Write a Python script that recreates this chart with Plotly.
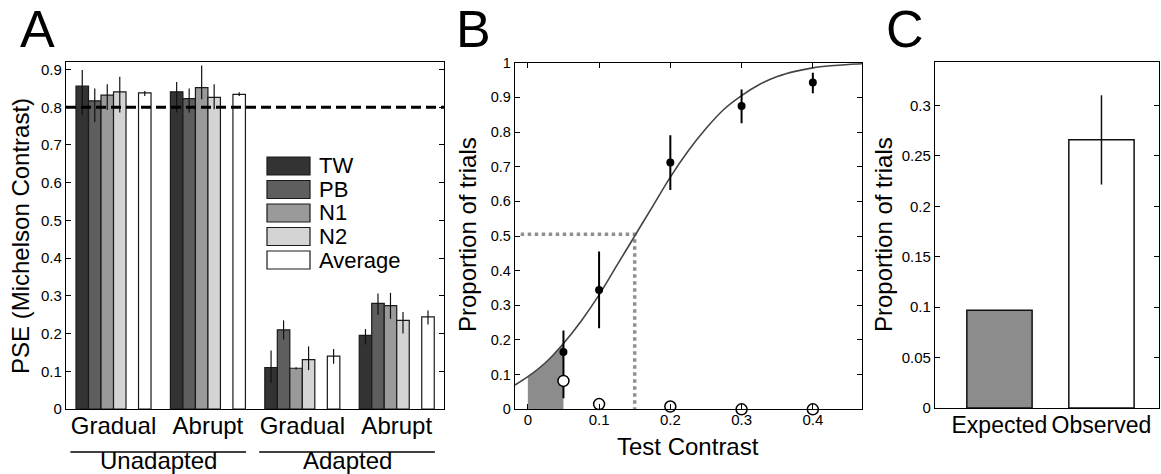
import plotly.graph_objects as go

W, H = 1161, 474
FONT = "Liberation Sans, Arial, Helvetica, sans-serif"

# ---------------- Panel A data ----------------
conditions = ["Gradual", "Abrupt", "Gradual", "Abrupt"]
adaptation = ["Unadapted", "Adapted"]
observers = ["TW", "PB", "N1", "N2", "Average"]
observer_colors = ["#333333", "#5e5e5e", "#9a9a9a", "#d4d4d4", "#ffffff"]

pse_TW = [0.856, 0.841, 0.110, 0.195]
pse_PB = [0.817, 0.823, 0.210, 0.280]
pse_N1 = [0.832, 0.852, 0.108, 0.274]
pse_N2 = [0.841, 0.826, 0.131, 0.235]
pse_AVG = [0.838, 0.834, 0.140, 0.244]

err_up_TW = [0.043, 0.026, 0.045, 0.017]
err_dn_TW = [0.077, 0.055, 0.041, 0.024]
err_up_PB = [0.033, 0.027, 0.025, 0.026]
err_dn_PB = [0.056, 0.037, 0.026, 0.030]
err_up_N1 = [0.029, 0.059, 0.003, 0.034]
err_dn_N1 = [0.039, 0.031, 0.003, 0.035]
err_up_N2 = [0.040, 0.035, 0.035, 0.022]
err_dn_N2 = [0.055, 0.031, 0.028, 0.035]
err_up_AVG = [0.005, 0.006, 0.019, 0.017]
err_dn_AVG = [0.008, 0.004, 0.020, 0.020]

pse_series = [pse_TW, pse_PB, pse_N1, pse_N2, pse_AVG]
err_up = [err_up_TW, err_up_PB, err_up_N1, err_up_N2, err_up_AVG]
err_dn = [err_dn_TW, err_dn_PB, err_dn_N1, err_dn_N2, err_dn_AVG]
reference_pse = 0.8
a_yticks = [0, 0.1, 0.2, 0.3, 0.4, 0.5, 0.6, 0.7, 0.8, 0.9]
a_yticklabels = ["0", "0.1", "0.2", "0.3", "0.4", "0.5", "0.6", "0.7", "0.8", "0.9"]

# ---------------- Panel B data ----------------
test_contrast = [0.05, 0.1, 0.2, 0.3, 0.4]
p_filled = [0.165, 0.344, 0.712, 0.875, 0.943]
p_filled_up = [0.062, 0.111, 0.079, 0.048, 0.028]
p_filled_dn = [0.133, 0.110, 0.079, 0.050, 0.031]
p_open = [0.082, 0.015, 0.008, 0.0, 0.0]
p_open_err = [0.0, 0.012, 0.012, 0.012, 0.012]
fit_x = [-0.018, 0.0, 0.025, 0.05, 0.075, 0.1, 0.125, 0.15, 0.175, 0.2, 0.225,
         0.25, 0.275, 0.3, 0.325, 0.35, 0.375, 0.4, 0.425, 0.45, 0.469]
fit_y = [0.070, 0.094, 0.135, 0.190, 0.255, 0.330, 0.415, 0.500, 0.585, 0.670, 0.745,
         0.810, 0.865, 0.905, 0.937, 0.960, 0.975, 0.985, 0.991, 0.995, 0.997]
shade_from, shade_to = 0.0, 0.05
pse_contrast = 0.15
pse_prop = 0.505
b_xticks = [0, 0.1, 0.2, 0.3, 0.4]
b_xticklabels = ["0", "0.1", "0.2", "0.3", "0.4"]
b_yticks = [0, 0.1, 0.2, 0.3, 0.4, 0.5, 0.6, 0.7, 0.8, 0.9, 1.0]
b_yticklabels = ["0", "0.1", "0.2", "0.3", "0.4", "0.5", "0.6", "0.7", "0.8", "0.9", "1"]

# ---------------- Panel C data ----------------
c_categories = ["Expected", "Observed"]
c_values = [0.097, 0.266]
c_err_up = [0.0, 0.044]
c_err_dn = [0.0, 0.0445]
c_colors = ["#8c8c8c", "#ffffff"]
c_yticks = [0, 0.05, 0.1, 0.15, 0.2, 0.25, 0.3]
c_yticklabels = ["0", "0.05", "0.1", "0.15", "0.2", "0.25", "0.3"]


def px_x(p):
    return p / W


def px_y(p):
    return 1 - p / H


fig = go.Figure()

# ---------- Panel A bars ----------
group_period = 7.55
slot_offsets = [0.5, 1.5, 2.5, 3.5, 5.5]
group_starts = [g * group_period for g in range(len(conditions))]
for i, name in enumerate(observers):
    xs = [s + slot_offsets[i] for s in group_starts]
    fig.add_trace(go.Bar(
        x=xs, y=pse_series[i], width=1.0, name=name,
        marker=dict(color=observer_colors[i], line=dict(color="#1a1a1a", width=1.2)),
        error_y=dict(type="data", symmetric=False, array=err_up[i], arrayminus=err_dn[i],
                     color="#111111", thickness=1.2, width=0),
        xaxis="x", yaxis="y", showlegend=False))

a_xmin = -0.8
a_xmax = group_starts[-1] + 6 + 0.78
group_centers = [s + 3 for s in group_starts]

# ---------- Panel B ----------
shade_x = [x for x in fit_x if shade_from <= x <= shade_to]
shade_y = [y for x, y in zip(fit_x, fit_y) if shade_from <= x <= shade_to]
fig.add_trace(go.Scatter(x=shade_x, y=shade_y, fill="tozeroy", mode="lines",
                         line=dict(width=0, color="#8c8c8c"), fillcolor="#8c8c8c",
                         xaxis="x2", yaxis="y2", showlegend=False, hoverinfo="skip"))
fig.add_trace(go.Scatter(x=[fit_x[0] + 0.008, pse_contrast, pse_contrast], y=[pse_prop, pse_prop, 0],
                         mode="lines", line=dict(color="#8f8f8f", width=3.5, dash="dot"),
                         xaxis="x2", yaxis="y2", showlegend=False))
fig.add_trace(go.Scatter(x=fit_x, y=fit_y, mode="lines", line=dict(color="#444444", width=1.6, shape="spline"),
                         xaxis="x2", yaxis="y2", showlegend=False))
fig.add_trace(go.Scatter(x=test_contrast, y=p_filled, mode="markers",
                         marker=dict(color="black", size=8),
                         error_y=dict(type="data", symmetric=False, array=p_filled_up, arrayminus=p_filled_dn,
                                      color="black", thickness=2, width=0),
                         xaxis="x2", yaxis="y2", showlegend=False, cliponaxis=False))
fig.add_trace(go.Scatter(x=test_contrast, y=p_open, mode="markers",
                         marker=dict(color="white", size=11, line=dict(color="black", width=1.5)),
                         error_y=dict(type="data", array=p_open_err, color="black", thickness=1.2, width=0),
                         xaxis="x2", yaxis="y2", showlegend=False, cliponaxis=False))

# ---------- Panel C ----------
fig.add_trace(go.Bar(x=[1, 2], y=c_values, width=0.64,
                     marker=dict(color=c_colors, line=dict(color="#111111", width=1.5)),
                     error_y=dict(type="data", symmetric=False, array=c_err_up, arrayminus=c_err_dn,
                                  color="#111111", thickness=1.5, width=0),
                     xaxis="x3", yaxis="y3", showlegend=False))

axis_common = dict(showline=True, linecolor="black", linewidth=1.3, mirror="ticks",
                   showgrid=False, zeroline=False, tickcolor="black", automargin=False,
                   tickfont=dict(family=FONT, size=15, color="black"))

shapes = []
annotations = []

# reference dashed line
shapes.append(dict(type="line", xref="x domain", yref="y", x0=0, x1=1, y0=reference_pse, y1=reference_pse,
                   line=dict(color="black", width=3, dash="10px,5px"), layer="above"))

# group lines and labels
for k, lab in enumerate(adaptation):
    s0 = group_starts[2 * k]
    s1 = group_starts[2 * k + 1] + 6
    shapes.append(dict(type="line", xref="x", yref="paper", x0=s0 - 0.45, x1=s1 + 0.05,
                       y0=px_y(452), y1=px_y(452), line=dict(color="black", width=1.3)))
    annotations.append(dict(text=lab, xref="x", yref="paper", x=(s0 + s1) / 2 - 0.2, y=px_y(460),
                            xanchor="center", yanchor="middle", showarrow=False,
                            font=dict(family=FONT, size=24, color="black")))

# manual legend for panel A
row_tops = [157, 180.5, 204, 227.5, 251]
for i, name in enumerate(observers):
    shapes.append(dict(type="rect", xref="paper", yref="paper",
                       x0=px_x(267), x1=px_x(310), y0=px_y(row_tops[i] + 18), y1=px_y(row_tops[i]),
                       fillcolor=observer_colors[i], line=dict(color="#1a1a1a", width=1.2)))
    annotations.append(dict(text=name, xref="paper", yref="paper", x=px_x(317), y=px_y(row_tops[i] + 9),
                            xanchor="left", yanchor="middle", showarrow=False,
                            font=dict(family=FONT, size=22, color="black")))

# axis titles
annotations.append(dict(text="PSE (Michelson Contrast)", xref="paper", yref="paper", x=px_x(20), y=px_y(236),
                        textangle=-90, xanchor="center", yanchor="middle", showarrow=False,
                        font=dict(family=FONT, size=24, color="black")))
annotations.append(dict(text="Proportion of trials", xref="paper", yref="paper", x=px_x(467), y=px_y(235),
                        textangle=-90, xanchor="center", yanchor="middle", showarrow=False,
                        font=dict(family=FONT, size=24, color="black")))
annotations.append(dict(text="Proportion of trials", xref="paper", yref="paper", x=px_x(883), y=px_y(235),
                        textangle=-90, xanchor="center", yanchor="middle", showarrow=False,
                        font=dict(family=FONT, size=24, color="black")))
annotations.append(dict(text="Test Contrast", xref="paper", yref="paper", x=px_x(688), y=px_y(446),
                        xanchor="center", yanchor="middle", showarrow=False,
                        font=dict(family=FONT, size=24, color="black")))

# panel letters
for letter, cx in [("A", 37), ("B", 473), ("C", 905)]:
    annotations.append(dict(text=letter, xref="paper", yref="paper", x=px_x(cx), y=px_y(29),
                            xanchor="center", yanchor="middle", showarrow=False,
                            font=dict(family=FONT, size=52, color="black")))

fig.update_layout(
    width=W, height=H, margin=dict(l=0, r=0, t=0, b=0, pad=0), autosize=False,
    paper_bgcolor="white", plot_bgcolor="white", barmode="overlay", showlegend=False,
    shapes=shapes, annotations=annotations,
    xaxis=dict(axis_common, domain=[px_x(66), px_x(444)], range=[a_xmin, a_xmax],
               tickvals=group_centers, ticktext=conditions, ticks="", tickangle=0,
               ticklabelstandoff=-5,
               tickfont=dict(family=FONT, size=24, color="black"), anchor="y"),
    yaxis=dict(axis_common, domain=[px_y(409), px_y(62)], range=[0, 0.92],
               tickvals=a_yticks, ticktext=a_yticklabels, ticks="inside", ticklen=5, anchor="x"),
    xaxis2=dict(axis_common, domain=[px_x(515), px_x(862)], range=[-0.018, 0.469],
                tickvals=b_xticks, ticktext=b_xticklabels, ticks="inside", ticklen=5, tickangle=0,
                ticklabelstandoff=-3, anchor="y2"),
    yaxis2=dict(axis_common, domain=[px_y(409.3), px_y(62.7)], range=[0, 1],
                tickvals=b_yticks, ticktext=b_yticklabels, ticks="inside", ticklen=5, anchor="x2"),
    xaxis3=dict(axis_common, domain=[px_x(935), px_x(1159)], range=[0.368, 2.564],
                tickvals=[1, 2], ticktext=c_categories, ticks="", tickangle=0,
                ticklabelstandoff=-4,
                tickfont=dict(family=FONT, size=23, color="black"), anchor="y3"),
    yaxis3=dict(axis_common, domain=[px_y(408), px_y(62)], range=[0, 0.343],
                tickvals=c_yticks, ticktext=c_yticklabels, ticks="inside", ticklen=5, anchor="x3"),
)
fig.update_yaxes(tickfont_size=14.5, selector=dict(anchor="x2"))

fig.write_html("out.html", config={"displayModeBar": False},
               post_script="document.body.style.margin='0px';document.body.style.overflow='hidden';")
